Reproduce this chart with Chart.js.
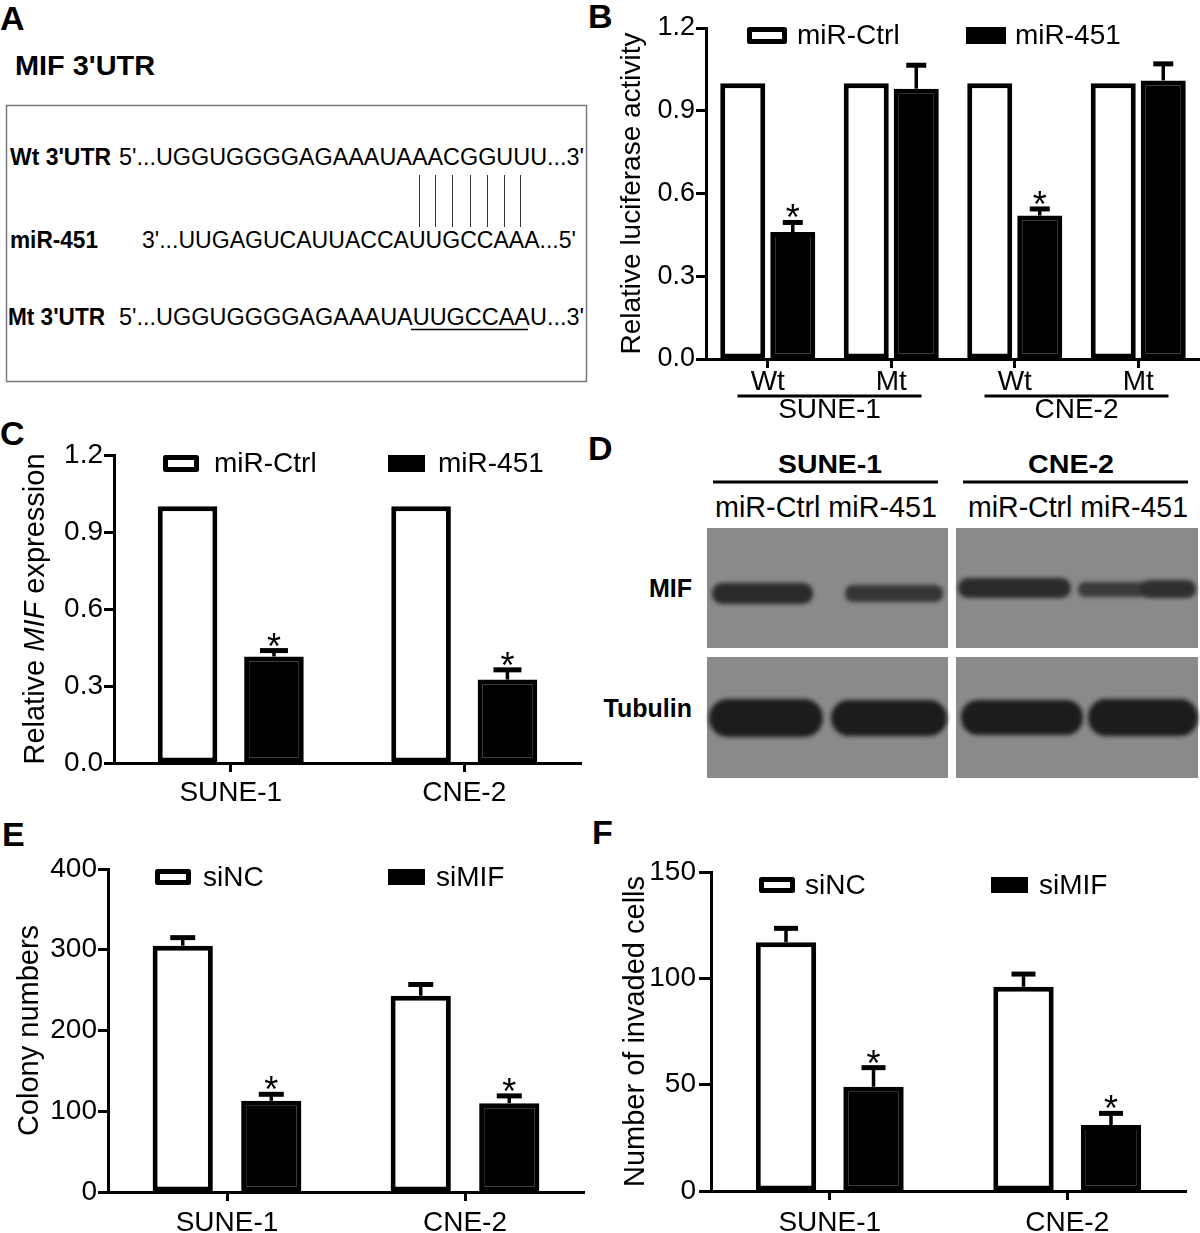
<!DOCTYPE html>
<html><head><meta charset="utf-8">
<script src="https://cdn.jsdelivr.net/npm/chart.js@4.4.1/dist/chart.umd.min.js"></script>
<style>
html,body{margin:0;padding:0;background:#fff;}
body{width:1200px;height:1233px;position:relative;overflow:hidden;}
canvas,svg{position:absolute;}
</style></head><body>
<svg id="deco" width="1200" height="1233" style="left:0;top:0" font-family="Liberation Sans, Arial, sans-serif">
 <defs><filter id="bl" x="-20%" y="-60%" width="140%" height="220%"><feGaussianBlur stdDeviation="2.2"/></filter></defs>
 <!-- panel letters -->
 <g font-weight="bold" font-size="34">
  <text x="0" y="30">A</text><text x="588" y="28">B</text><text x="0" y="445">C</text>
  <text x="588" y="460">D</text><text x="2" y="846">E</text><text x="592" y="844">F</text>
 </g>
 <!-- panel A -->
 <text x="15" y="75" font-size="28" font-weight="bold" textLength="140" lengthAdjust="spacingAndGlyphs">MIF 3'UTR</text>
 <rect x="6.5" y="105.5" width="580" height="276" fill="none" stroke="#7a7a7a" stroke-width="1.5"/>
 <g font-size="23.5">
  <text x="10" y="165" font-weight="bold" textLength="101" lengthAdjust="spacingAndGlyphs">Wt 3'UTR</text>
  <text x="119" y="165" textLength="465" lengthAdjust="spacingAndGlyphs">5'...UGGUGGGGAGAAAUAAACGGUUU...3'</text>
  <text x="10" y="248" font-weight="bold" textLength="88" lengthAdjust="spacingAndGlyphs">miR-451</text>
  <text x="142" y="248" textLength="434" lengthAdjust="spacingAndGlyphs">3'...UUGAGUCAUUACCAUUGCCAAA...5'</text>
  <text x="8" y="325" font-weight="bold" textLength="97" lengthAdjust="spacingAndGlyphs">Mt 3'UTR</text>
  <text x="119" y="325" textLength="465" lengthAdjust="spacingAndGlyphs">5'...UGGUGGGGAGAAAUAUUGCCAAU...3'</text>
 </g>
 <line x1="411" y1="329.5" x2="528" y2="329.5" stroke="#000" stroke-width="1.5"/>
 <g stroke="#333" stroke-width="1">
  <line x1="419.5" y1="175" x2="419.5" y2="227"/><line x1="435.5" y1="175" x2="435.5" y2="227"/>
  <line x1="452.5" y1="175" x2="452.5" y2="227"/><line x1="470.5" y1="175" x2="470.5" y2="227"/>
  <line x1="487.5" y1="175" x2="487.5" y2="227"/><line x1="504.5" y1="175" x2="504.5" y2="227"/>
  <line x1="520.5" y1="175" x2="520.5" y2="227"/>
 </g>
 <!-- panel D -->
 <g font-weight="bold" font-size="26" text-anchor="middle">
  <text x="830" y="473" textLength="104" lengthAdjust="spacingAndGlyphs">SUNE-1</text>
  <text x="1071" y="473" textLength="86" lengthAdjust="spacingAndGlyphs">CNE-2</text>
 </g>
 <line x1="713" y1="482" x2="938" y2="482" stroke="#000" stroke-width="3"/>
 <line x1="963" y1="482" x2="1188" y2="482" stroke="#000" stroke-width="3"/>
 <g font-size="29">
  <text x="715" y="517" textLength="222" lengthAdjust="spacingAndGlyphs">miR-Ctrl miR-451</text>
  <text x="968" y="517" textLength="220" lengthAdjust="spacingAndGlyphs">miR-Ctrl miR-451</text>
 </g>
 <g font-weight="bold" font-size="25" text-anchor="end">
  <text x="692" y="597">MIF</text><text x="692" y="717">Tubulin</text>
 </g>
 <g fill="#8a8a8a">
  <rect x="707" y="528" width="241" height="120"/><rect x="707" y="657" width="241" height="121"/>
  <rect x="956" y="528" width="242" height="120"/><rect x="956" y="657" width="242" height="121"/>
 </g>
 <g filter="url(#bl)">
  <rect x="712" y="583" width="101" height="21" rx="10" fill="#2a2a2a"/>
  <rect x="845" y="585" width="98" height="17" rx="8" fill="#363636"/>
  <rect x="958" y="578" width="113" height="20" rx="10" fill="#2a2a2a"/>
  <rect x="1078" y="582" width="118" height="15" rx="7" fill="#3b3b3b"/>
  <rect x="1140" y="580" width="56" height="18" rx="9" fill="#2e2e2e"/>
  <rect x="709" y="699" width="114" height="38" rx="19" fill="#1f1f1f"/>
  <rect x="831" y="700" width="116" height="36" rx="18" fill="#1f1f1f"/>
  <rect x="961" y="700" width="122" height="35" rx="17" fill="#1f1f1f"/>
  <rect x="1088" y="699" width="110" height="37" rx="18" fill="#1f1f1f"/>
 </g>
</svg>
<canvas id="cB" width="600" height="430" style="left:600px;top:0px"></canvas>
<canvas id="cC" width="600" height="400" style="left:0px;top:420px"></canvas>
<canvas id="cE" width="600" height="413" style="left:0px;top:820px"></canvas>
<canvas id="cF" width="600" height="413" style="left:600px;top:820px"></canvas>
<script>
const FONT = '"Liberation Sans", Arial, sans-serif';

// ---- Panel B: relative luciferase activity ----
const seriesB = ['miR-Ctrl', 'miR-451'];
const catB = ['Wt', 'Mt', 'Wt', 'Mt'];
const groupB = ['SUNE-1', 'CNE-2'];
const ctrlB = [1.00, 1.00, 1.00, 1.00];
const mirB = [0.46, 0.98, 0.52, 1.01];
const mirErrB = [0.035, 0.085, 0.024, 0.06];
const sigB = [true, false, true, false];
const yTicksB = [0, 0.3, 0.6, 0.9, 1.2];

// ---- Panel C: relative MIF expression ----
const seriesC = ['miR-Ctrl', 'miR-451'];
const catC = ['SUNE-1', 'CNE-2'];
const ctrlC = [1.00, 1.00];
const mirC = [0.415, 0.325];
const mirErrC = [0.023, 0.038];
const sigC = [true, true];
const yTicksC = [0, 0.3, 0.6, 0.9, 1.2];

// ---- Panel E: colony numbers ----
const seriesE = ['siNC', 'siMIF'];
const catE = ['SUNE-1', 'CNE-2'];
const siNCE = [305, 243];
const siNCErrE = [10, 14];
const siMIFE = [113, 110];
const siMIFErrE = [8, 9];
const sigE = [true, true];
const yTicksE = [0, 100, 200, 300, 400];

// ---- Panel F: number of invaded cells ----
const seriesF = ['siNC', 'siMIF'];
const catF = ['SUNE-1', 'CNE-2'];
const siNCF = [117, 96];
const siNCErrF = [6.5, 6];
const siMIFF = [49, 31];
const siMIFErrF = [9, 5.5];
const sigF = [true, true];
const yTicksF = [0, 50, 100, 150];

Chart.defaults.font.family = FONT;
Chart.defaults.color = '#000';

const gpPlugin = {
  id: 'gp',
  afterDatasetsDraw(chart, args, o) {
    const ctx = chart.ctx, ys = chart.scales.y, xs = chart.scales.x;
    ctx.save();
    ctx.strokeStyle = '#000'; ctx.fillStyle = '#000';
    chart.data.datasets.forEach((ds, di) => {
      if (!ds.errors) return;
      const meta = chart.getDatasetMeta(di);
      meta.data.forEach((el, i) => {
        const e = ds.errors[i];
        if (!e) return;
        const top = ys.getPixelForValue(ds.data[i] + e);
        ctx.lineCap = 'butt';
        ctx.lineWidth = o.stemW;
        ctx.beginPath(); ctx.moveTo(el.x, el.y); ctx.lineTo(el.x, top); ctx.stroke();
        ctx.lineWidth = o.capH;
        ctx.beginPath(); ctx.moveTo(el.x - o.capW / 2, top); ctx.lineTo(el.x + o.capW / 2, top); ctx.stroke();
        if (ds.sig && ds.sig[i]) {
          ctx.font = o.starSize + 'px ' + FONT;
          ctx.textAlign = 'center'; ctx.textBaseline = 'alphabetic';
          ctx.fillText('*', el.x, top + o.starDy);
        }
      });
    });
    // legend
    (o.legend || []).forEach((L, di) => {
      const ds = chart.data.datasets[di];
      ctx.fillStyle = ds.backgroundColor;
      ctx.fillRect(L.x, L.y, L.w, L.h);
      ctx.strokeStyle = '#000'; ctx.lineWidth = o.legendLW; ctx.lineJoin = 'round';
      ctx.strokeRect(L.x + o.legendLW / 2, L.y + o.legendLW / 2, L.w - o.legendLW, L.h - o.legendLW);
      ctx.fillStyle = '#000';
      ctx.font = o.legendFont + 'px ' + FONT;
      ctx.textAlign = 'left'; ctx.textBaseline = 'middle';
      ctx.fillText(ds.label, L.tx, L.y + L.h / 2 + 1);
    });
    // group labels under pairs of categories
    if (o.groups) {
      const G = o.groups;
      G.names.forEach((name, k) => {
        const cx = (xs.getPixelForValue(2 * k) + xs.getPixelForValue(2 * k + 1)) / 2;
        ctx.strokeStyle = '#000'; ctx.lineWidth = 3;
        ctx.beginPath(); ctx.moveTo(cx - G.half, G.lineY); ctx.lineTo(cx + G.half, G.lineY); ctx.stroke();
        ctx.fillStyle = '#000'; ctx.font = G.size + 'px ' + FONT;
        ctx.textAlign = 'center'; ctx.textBaseline = 'middle';
        ctx.fillText(name, cx, G.textY);
      });
    }
    // rich (mixed style) axis title
    if (o.richTitle) {
      const R = o.richTitle;
      const fonts = R.parts.map(p => (p[1] === 'italic' ? 'italic ' : '') + R.size + 'px ' + FONT);
      let total = 0;
      const widths = R.parts.map((p, i) => { ctx.font = fonts[i]; const w = ctx.measureText(p[0]).width; total += w; return w; });
      ctx.translate(R.x, (chart.chartArea.top + chart.chartArea.bottom) / 2);
      ctx.rotate(-Math.PI / 2);
      ctx.fillStyle = '#000'; ctx.textAlign = 'left'; ctx.textBaseline = 'middle';
      let x = -total / 2;
      R.parts.forEach((p, i) => { ctx.font = fonts[i]; ctx.fillText(p[0], x, 0); x += widths[i]; });
    }
    ctx.restore();
  }
};

function build(id, o) {
  const W = o.w, H = o.h, A = o.area;
  const datasets = o.series.map((s, i) => ({
    label: s.label, data: s.data,
    backgroundColor: i === 0 ? '#ffffff' : '#000000',
    borderColor: '#000000', borderWidth: o.bw, borderSkipped: false,
    categoryPercentage: o.catPct, barPercentage: o.barPct,
    errors: s.err, sig: s.sig
  }));
  return new Chart(document.getElementById(id), {
    type: 'bar',
    data: { labels: o.labels, datasets },
    options: {
      responsive: false, animation: false, devicePixelRatio: 1, events: [],
      layout: { padding: { left: 0, top: A.t, right: W - A.r, bottom: 0 } },
      plugins: { legend: { display: false }, tooltip: { enabled: false }, gp: o.gp },
      scales: {
        x: {
          grid: { display: true, drawOnChartArea: false, offset: false, tickLength: o.xTick, tickWidth: 3, tickColor: '#000' },
          border: { display: true, color: '#000', width: 3 },
          ticks: { color: '#000', font: { family: FONT, size: o.xFont, lineHeight: 1 }, padding: o.xPad, maxRotation: 0, autoSkip: false },
          afterFit: s => { s.height = H - A.b; }
        },
        y: {
          min: o.yTicks[0], max: o.yTicks[o.yTicks.length - 1],
          afterBuildTicks: s => { s.ticks = o.yTicks.map(v => ({ value: v })); },
          grid: { drawOnChartArea: false, tickLength: o.yTick, tickWidth: 3, tickColor: '#000' },
          border: { display: true, color: '#000', width: 3 },
          ticks: { color: '#000', font: { family: FONT, size: o.yFont }, padding: o.yPad, callback: o.fmt },
          title: o.yTitle ? { display: true, text: o.yTitle, color: '#000', font: { family: FONT, size: o.titleFont }, padding: { top: o.titlePad, bottom: 0 } } : { display: false },
          afterFit: s => { s.width = A.l; }
        }
      }
    },
    plugins: [gpPlugin]
  });
}

const fmt1 = v => Number(v).toFixed(1);
const fmt0 = v => String(Math.round(v));

// Panel B
build('cB', {
  w: 600, h: 430, area: { l: 106, t: 28, r: 600, b: 359 },
  labels: catB,
  series: [
    { label: seriesB[0], data: ctrlB },
    { label: seriesB[1], data: mirB, err: mirErrB, sig: sigB }
  ],
  bw: 5, catPct: 0.81, barPct: 0.9,
  xTick: 9, xFont: 28, xPad: 0, yTick: 10, yFont: 27, yPad: 1,
  yTicks: yTicksB, fmt: fmt1,
  yTitle: 'Relative luciferase activity', titleFont: 28, titlePad: 15,
  gp: {
    stemW: 3.5, capH: 5, capW: 20, starSize: 36, starDy: 8,
    legendLW: 5, legendFont: 28,
    legend: [{ x: 147, y: 27, w: 40, h: 17, tx: 197 }, { x: 366, y: 27, w: 40, h: 17, tx: 415 }],
    groups: { names: groupB, lineY: 396, textY: 410, half: 92, size: 28 }
  }
});

// Panel C
build('cC', {
  w: 600, h: 400, area: { l: 114, t: 35, r: 581, b: 343 },
  labels: catC,
  series: [
    { label: seriesC[0], data: ctrlC },
    { label: seriesC[1], data: mirC, err: mirErrC, sig: sigC }
  ],
  bw: 5, catPct: 0.74, barPct: 0.69,
  xTick: 9, xFont: 28, xPad: 7, yTick: 10, yFont: 28, yPad: 1,
  yTicks: yTicksC, fmt: fmt1,
  yTitle: null,
  gp: {
    stemW: 3.5, capH: 5, capW: 28, starSize: 36, starDy: 8,
    legendLW: 5, legendFont: 28,
    legend: [{ x: 163, y: 35, w: 36, h: 17, tx: 214 }, { x: 388, y: 35, w: 37, h: 17, tx: 438 }],
    richTitle: { x: 36, size: 29, parts: [['Relative ', 'normal'], ['MIF', 'italic'], [' expression', 'normal']] }
  }
});

// Panel E
build('cE', {
  w: 600, h: 413, area: { l: 108, t: 49, r: 584, b: 372 },
  labels: catE,
  series: [
    { label: seriesE[0], data: siNCE, err: siNCErrE },
    { label: seriesE[1], data: siMIFE, err: siMIFErrE, sig: sigE }
  ],
  bw: 5, catPct: 0.744, barPct: 0.68,
  xTick: 9, xFont: 28, xPad: 8, yTick: 10, yFont: 28, yPad: 1,
  yTicks: yTicksE, fmt: fmt0,
  yTitle: 'Colony numbers', titleFont: 29, titlePad: 13,
  gp: {
    stemW: 3.5, capH: 5, capW: 25, starSize: 36, starDy: 8,
    legendLW: 5, legendFont: 28,
    legend: [{ x: 155, y: 49, w: 36, h: 16, tx: 203 }, { x: 388, y: 49, w: 37, h: 16, tx: 436 }]
  }
});

// Panel F
build('cF', {
  w: 600, h: 413, area: { l: 111, t: 52, r: 586, b: 371 },
  labels: catF,
  series: [
    { label: seriesF[0], data: siNCF, err: siNCErrF },
    { label: seriesF[1], data: siMIFF, err: siMIFErrF, sig: sigF }
  ],
  bw: 5, catPct: 0.737, barPct: 0.69,
  xTick: 9, xFont: 28, xPad: 9, yTick: 12, yFont: 28, yPad: 3,
  yTicks: yTicksF, fmt: fmt0,
  yTitle: 'Number of invaded cells', titleFont: 29, titlePad: 19,
  gp: {
    stemW: 3.5, capH: 5, capW: 24, starSize: 36, starDy: 8,
    legendLW: 5, legendFont: 28,
    legend: [{ x: 159, y: 57, w: 36, h: 16, tx: 205 }, { x: 391, y: 57, w: 37, h: 16, tx: 439 }]
  }
});
</script>
</body></html>
